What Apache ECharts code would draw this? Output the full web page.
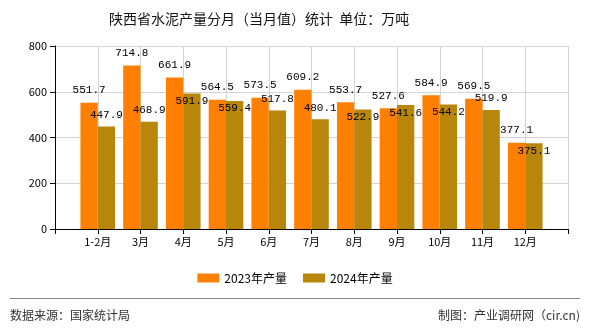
<!DOCTYPE html>
<html>
<head>
<meta charset="utf-8">
<script src="https://cdn.jsdelivr.net/npm/echarts@6/dist/echarts.min.js"></script>
<style>
html,body{margin:0;padding:0;background:#fff;}
#c{width:590px;height:330px;}
</style>
</head>
<body>
<div id="c"></div>
<script>
var categories = ['1-2月','3月','4月','5月','6月','7月','8月','9月','10月','11月','12月'];
var values2023 = [551.7, 714.8, 661.9, 564.5, 573.5, 609.2, 553.7, 527.6, 584.9, 569.5, 377.1];
var values2024 = [447.9, 468.9, 591.9, 559.4, 517.8, 480.1, 522.9, 541.6, 544.2, 519.9, 375.1];
var yTicks = [0, 200, 400, 600, 800];
var seriesNames = ['2023年产量', '2024年产量'];
var titleText = '陕西省水泥产量分月（当月值）统计\u00a0\u00a0单位：万吨';
var sourceText = '数据来源：国家统计局';
var makerText = '制图：产业调研网（cir.cn)';

// label placement for second series (inside bar top vs above)
var goldInside = [false, false, true, true, false, false, true, true, true, false, true];

var cjk = '"Noto Sans CJK SC", "Noto Sans", sans-serif';
var mono = '"Liberation Mono", "DejaVu Sans Mono", monospace';

var axisCats = [''].concat(categories).concat(['']);
var d2023 = [null].concat(values2023.map(function(v){return {value: v};})).concat([null]);
var d2024 = [null].concat(values2024.map(function(v, i){
  return goldInside[i]
    ? {value: v, label: {position: 'insideTop', distance: 2}}
    : {value: v, label: {position: 'top', distance: 6}};
})).concat([null]);

var chart = echarts.init(document.getElementById('c'), null, {renderer: 'canvas'});
chart.setOption({
  animation: false,
  backgroundColor: '#fff',
  title: {
    text: titleText,
    left: 104,
    top: 7,
    textStyle: {fontSize: 14, fontWeight: 'normal', color: '#111', fontFamily: cjk}
  },
  legend: {
    data: seriesNames,
    left: 'center',
    top: 267,
    itemWidth: 22,
    itemHeight: 9,
    itemGap: 16,
    icon: 'rect',
    textStyle: {fontSize: 12, color: '#000', fontFamily: cjk}
  },
  grid: {left: 55, right: 22, top: 46, bottom: 101, containLabel: false},
  xAxis: {
    type: 'category',
    data: axisCats,
    boundaryGap: false,
    axisLine: {lineStyle: {color: '#000', width: 1}},
    axisTick: {show: true, length: 5, lineStyle: {color: '#000'}},
    axisLabel: {color: '#000', fontSize: 11, margin: 7, fontFamily: cjk, interval: 0},
    splitLine: {show: true, lineStyle: {color: '#d3d3d3', width: 1}}
  },
  yAxis: {
    type: 'value',
    min: yTicks[0],
    max: yTicks[yTicks.length - 1],
    interval: 200,
    axisLine: {show: true, lineStyle: {color: '#000', width: 1}},
    axisTick: {show: true, length: 5, lineStyle: {color: '#000'}},
    axisLabel: {color: '#000', fontSize: 11, margin: 8, fontFamily: cjk},
    splitLine: {show: true, lineStyle: {color: '#d3d3d3', width: 1}}
  },
  series: [
    {
      name: seriesNames[0],
      type: 'bar',
      data: d2023,
      barGap: '0%',
      barCategoryGap: '19%',
      itemStyle: {color: '#FF8000'},
      label: {show: true, position: 'top', distance: 7, color: '#000', fontSize: 11, fontFamily: mono}
    },
    {
      name: seriesNames[1],
      type: 'bar',
      data: d2024,
      barGap: '0%',
      barCategoryGap: '19%',
      itemStyle: {color: '#B8860B'},
      label: {show: true, position: 'top', distance: 6, color: '#000', fontSize: 11, fontFamily: mono}
    }
  ],
  graphic: [
    {type: 'line', shape: {x1: 10, y1: 298.5, x2: 580, y2: 298.5}, style: {stroke: '#888', lineWidth: 1}},
    {type: 'text', left: 10, top: 309, style: {text: sourceText, fontSize: 12, fill: '#333', fontFamily: cjk}},
    {type: 'text', right: 10, top: 309, style: {text: makerText, fontSize: 12, fill: '#333', fontFamily: cjk}}
  ]
});
</script>
</body>
</html>
